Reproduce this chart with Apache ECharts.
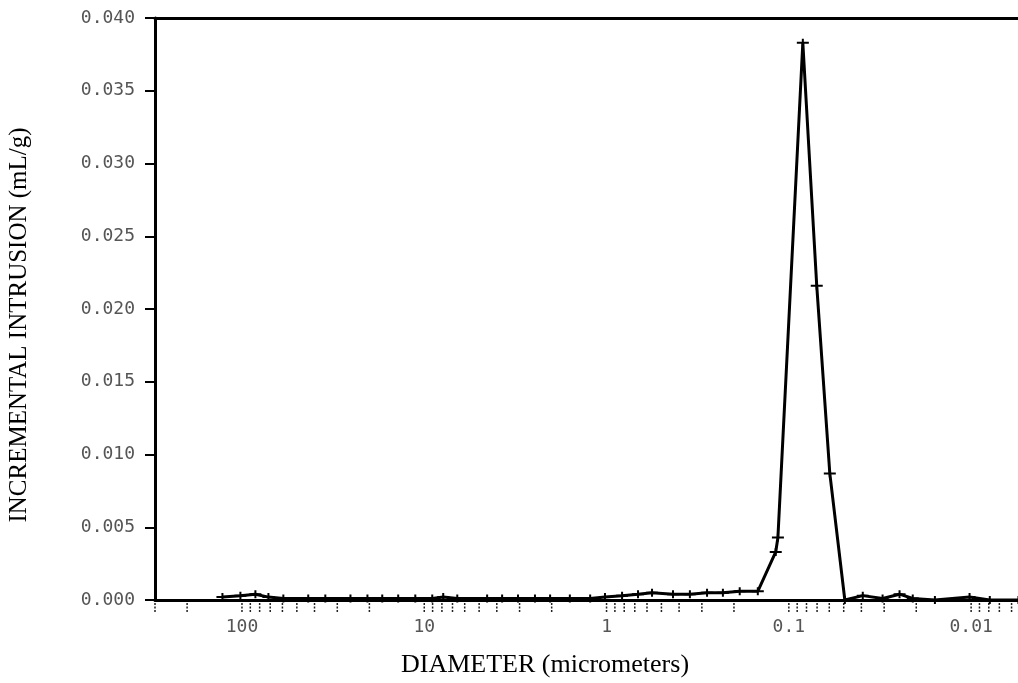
<!DOCTYPE html>
<html>
<head>
<meta charset="utf-8">
<script src="https://cdn.jsdelivr.net/npm/echarts@6/dist/echarts.min.js"></script>
<style>
  html, body { margin: 0; padding: 0; background: #fff; }
  #chart { width: 1018px; height: 683px; }
</style>
</head>
<body>
<div id="chart"></div>
<script>
// pore diameter (micrometers)
const diameters = [128, 102, 84.4, 71.6, 59.3, 43.3, 34.9, 25.4, 20.5, 17.0, 13.9, 11.2, 9.04, 7.87, 6.59,
  4.52, 3.74, 3.06, 2.47, 2.04, 1.59, 1.23, 1.02, 0.822, 0.672, 0.563, 0.432, 0.349, 0.281, 0.230,
  0.186, 0.148, 0.118, 0.1148, 0.0838, 0.0703, 0.0596, 0.0493, 0.0393, 0.0306, 0.0247, 0.0209,
  0.0158, 0.0102, 0.0079, 0.0055];
// incremental intrusion (mL/g)
const intrusion = [0.0002, 0.0003, 0.0004, 0.0002, 0.0001, 0.0001, 0.0001, 0.0001, 0.0001, 0.0001, 0.0001, 0.0001, 0.0001, 0.0002, 0.0001,
  0.0001, 0.0001, 0.0001, 0.0001, 0.0001, 0.0001, 0.0001, 0.0002, 0.0003, 0.0004, 0.0005, 0.0004, 0.0004, 0.0005, 0.0005,
  0.0006, 0.0006, 0.0033, 0.0043, 0.0383, 0.0216, 0.0087, 0.0000, 0.0003, 0.0001, 0.0004, 0.0001,
  0.0000, 0.0002, 0.0000, 0.0000];
// tick marks printed under the diameter axis
const xTicks = [300, 200, 100, 90, 80, 70, 60, 50, 40, 30, 20, 10, 9, 8, 7, 6, 5, 4, 3, 2,
  1, 0.9, 0.8, 0.7, 0.6, 0.5, 0.4, 0.3, 0.2, 0.1, 0.09, 0.08, 0.07, 0.06, 0.05, 0.04, 0.03, 0.02,
  0.01, 0.009, 0.008, 0.007, 0.006];
const xMajor = [100, 10, 1, 0.1, 0.01];

const chart = echarts.init(document.getElementById('chart'));
const monoFont = 'DejaVu Sans Mono';

const xCommon = {
  type: 'log',
  logBase: 10,
  inverse: true,
  min: 0.005,
  max: 300,
  splitLine: { show: false },
  axisTick: { show: false }
};

chart.setOption({
  animation: false,
  grid: { left: 155, right: -8, top: 18, bottom: 83, containLabel: false, outerBoundsMode: 'none' },
  xAxis: [
    Object.assign({}, xCommon, {
      position: 'bottom',
      axisLine: { show: true, lineStyle: { color: '#000', width: 3 } },
      axisLabel: {
        margin: 18,
        color: '#555',
        fontFamily: monoFont,
        fontSize: 18,
        showMinLabel: false,
        showMaxLabel: false,
        formatter: function (v) {
          const m = xMajor.find(function (t) { return Math.abs(Math.log10(v) - Math.log10(t)) < 1e-6; });
          return m === undefined ? '' : String(m);
        }
      }
    }),
    Object.assign({}, xCommon, {
      position: 'top',
      axisLine: { show: true, lineStyle: { color: '#000', width: 3 } },
      axisLabel: { show: false }
    })
  ],
  yAxis: {
    type: 'value',
    min: 0,
    max: 0.04,
    interval: 0.005,
    splitLine: { show: false },
    axisLine: { show: true, lineStyle: { color: '#000', width: 3 } },
    axisTick: { show: true, inside: false, length: 10, lineStyle: { color: '#000', width: 2 } },
    axisLabel: {
      margin: 20,
      color: '#555',
      fontFamily: monoFont,
      fontSize: 18,
      formatter: function (v) { return v.toFixed(3); }
    }
  },
  graphic: [
    {
      type: 'text',
      x: 545,
      y: 665,
      style: {
        text: 'DIAMETER (micrometers)',
        font: '26px "Liberation Serif"',
        fill: '#000',
        align: 'center',
        verticalAlign: 'middle'
      }
    },
    {
      type: 'text',
      x: 19,
      y: 325,
      rotation: Math.PI / 2,
      style: {
        text: 'INCREMENTAL INTRUSION (mL/g)',
        font: '25px "Liberation Serif"',
        fill: '#000',
        align: 'center',
        verticalAlign: 'middle'
      }
    }
  ],
  series: [
    {
      type: 'line',
      data: diameters.map(function (d, i) { return [d, intrusion[i]]; }),
      symbol: 'path://M0,3H12V5H0Z M5,0H7V8H5Z',
      symbolSize: [12, 8],
      showSymbol: true,
      itemStyle: { color: '#000' },
      lineStyle: { color: '#000', width: 3 },
      z: 3
    },
    {
      type: 'custom',
      clip: false,
      silent: true,
      data: xTicks.map(function (t) { return [t, 0]; }),
      renderItem: function (params, api) {
        const c = api.coord([api.value(0), 0]);
        return {
          type: 'line',
          shape: { x1: c[0], y1: c[1] + 3, x2: c[0], y2: c[1] + 13 },
          style: { stroke: '#222', lineWidth: 1.5, lineDash: [2, 1.5] }
        };
      },
      z: 2
    }
  ]
});
</script>
</body>
</html>
